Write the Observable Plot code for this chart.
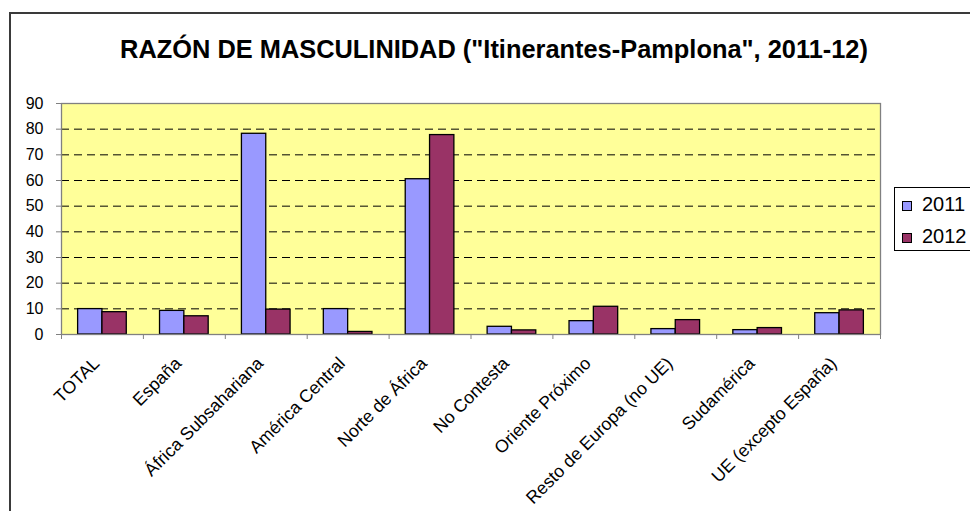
<!DOCTYPE html>
<html><head><meta charset="utf-8">
<script src="https://cdn.jsdelivr.net/npm/d3@7"></script>
<script src="https://cdn.jsdelivr.net/npm/@observablehq/plot@0.6"></script>
<style>
body{margin:0;background:#fff;overflow:hidden;font-family:"Liberation Sans",Arial,sans-serif;}
#wrap{position:relative;width:970px;height:511px;overflow:hidden;}
#frame{position:absolute;left:9px;top:12px;width:1000px;height:530px;border:2px solid #3a3a3a;box-sizing:border-box;}
#title{position:absolute;left:0;width:988px;top:37px;text-align:center;font-weight:bold;font-size:25.4px;line-height:24px;white-space:nowrap;color:#000;}
#chart{position:absolute;left:0;top:0;}
#legend{position:absolute;left:894px;top:187px;width:100px;height:64px;border:1px solid #000;box-sizing:border-box;background:#fff;}
.sw{position:absolute;left:7px;width:8px;height:8px;border:1px solid #000;}
.lt{position:absolute;left:27px;font-size:20px;line-height:20px;color:#000;}
</style></head>
<body><div id="wrap">
<div id="frame"></div>
<div id="chart"></div>
<div id="title">RAZÓN DE MASCULINIDAD ("Itinerantes-Pamplona", 2011-12)</div>
<div id="legend"></div>
</div>
<script>
const categories = ["TOTAL","España","África Subsahariana","América Central","Norte de África","No Contesta","Oriente Próximo","Resto de Europa (no UE)","Sudamérica","UE (excepto España)"];
const years = ["2011","2012"];
const values2011 = [9.9, 9.2, 78.2, 9.9, 60.5, 3.0, 5.2, 2.1, 1.7, 8.3];
const values2012 = [8.7, 7.1, 9.7, 1.0, 77.7, 1.6, 10.8, 5.6, 2.5, 9.4];
const yTicks = [0,10,20,30,40,50,60,70,80,90];
const colors = ["#9999FF","#993366"];

const groupStart = 0.203, barW = 0.297;
const rows = [];
categories.forEach((c, i) => {
  [values2011, values2012].forEach((vals, k) => {
    rows.push({cat: c, year: years[k], value: vals[i], x1: i + groupStart + k*barW, x2: i + groupStart + (k+1)*barW});
  });
});

const chart = Plot.plot({
  width: 970, height: 511,
  marginLeft: 61, marginRight: 90, marginTop: 103, marginBottom: 177,
  style: {background: "transparent", fontFamily: "Liberation Sans, Arial, sans-serif", fontSize: "16px", overflow: "visible", color: "#000"},
  x: {domain: [0, categories.length], label: null},
  y: {domain: [0, 90], label: null},
  color: {domain: years, range: colors},
  marks: [
    Plot.frame({fill: "#FFFF99", stroke: null}),
    Plot.ruleY(yTicks.filter(d => d > 0 && d < 90), {stroke: "#000", strokeWidth: 1, strokeDasharray: "8,5"}),
    Plot.rectY(rows, {x1: "x1", x2: "x2", y1: 0, y2: "value", fill: "year", stroke: "#000", strokeWidth: 1.3}),
    Plot.frame({stroke: "#808080", strokeWidth: 1.3}),
    Plot.axisY({ticks: yTicks, tickSize: 5, tickPadding: 13, fontSize: 16, stroke: "#808080", fill: "#000", label: null}),
    Plot.axisX({ticks: d3.range(0, categories.length + 1), tickFormat: () => "", tickSize: 5, stroke: "#808080", label: null}),
    Plot.axisX({ticks: categories.map((c, i) => i + 0.5), tickFormat: d => categories[Math.floor(d)], tickSize: 0, tickPadding: 26, tickRotate: -45, fontSize: 17.7, fill: "#000", dx: -6, label: null})
  ]
});
document.getElementById("chart").appendChild(chart);

const lg = document.getElementById("legend");
years.forEach((y, k) => {
  const sw = document.createElement("div");
  sw.className = "sw"; sw.style.background = colors[k]; sw.style.top = (13 + k*32) + "px";
  lg.appendChild(sw);
  const t = document.createElement("div");
  t.className = "lt"; t.textContent = y; t.style.top = (6 + k*32) + "px";
  lg.appendChild(t);
});
</script>
</body></html>
